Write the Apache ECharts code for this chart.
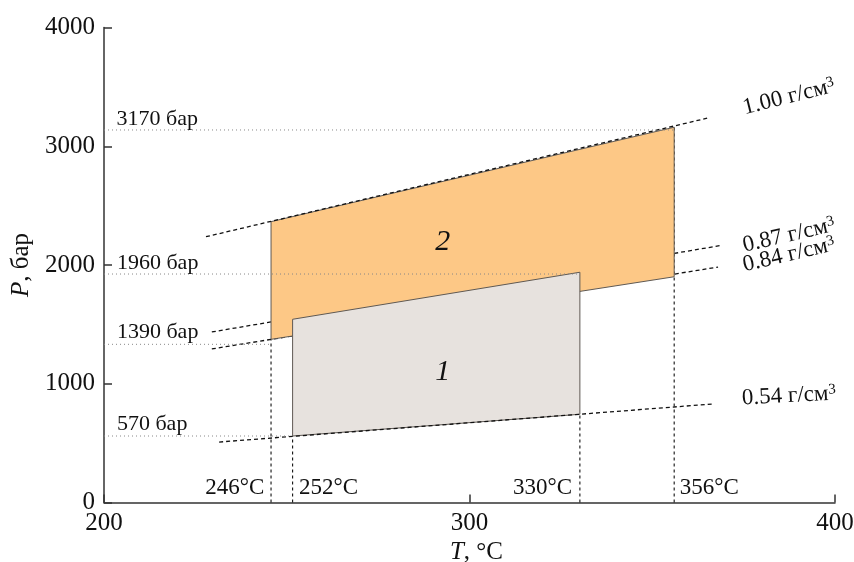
<!DOCTYPE html>
<html>
<head>
<meta charset="utf-8">
<script src="https://cdn.jsdelivr.net/npm/echarts@6/dist/echarts.min.js"></script>
<style>
html,body{margin:0;padding:0;background:#fff;}
#chart{width:854px;height:562px;}
</style>
</head>
<body>
<div id="chart"></div>
<script>
// ---- Data ----
// Axis ticks
const xTicks = [200, 300, 400];
const yTicks = [0, 1000, 2000, 3000, 4000];

// Region 2 (orange) vertices: T (°C), P (bar)
const region2T = [245.7, 356.0, 356.0, 245.7];
const region2P = [2365, 3160, 1901, 1374];
// Region 1 (grey) vertices
const region1T = [251.6, 330.2, 330.2, 251.6];
const region1P = [1543, 1939, 743, 560];

// Isochores (dashed lines): endpoints
const iso100T = [227.9, 365.8], iso100P = [2238, 3242];
const iso087T = [229.5, 368.5], iso087P = [1436, 2163];
const iso084T = [229.5, 368.0], iso084P = [1293, 1983];
const iso054T = [231.5, 366.3], iso054P = [509, 829];

// Vertical temperature guides: T and top P
const vTempT = [245.7, 251.6, 330.2, 356.0];
const vTempTop = [1374, 560, 743, 3160];
const vTempLabels = ['246°C', '252°C', '330°C', '356°C'];

// Horizontal pressure guides (dotted): P, end T
const hPresP = [3137, 1924, 1332, 560];
const hPresEndT = [356.0, 330.2, 245.7, 251.6];
const hPresLabels = ['3170 бар', '1960 бар', '1390 бар', '570 бар'];

// Density labels
const densLabels = ['1.00 г/см', '0.87 г/см', '0.84 г/см', '0.54 г/см'];
const regionLabels = ['2', '1'];

// ---- Layout / annotation positions (data coordinates) ----
const hPresLabelPos = [[203.3, 3229], [203.4, 2013], [203.4, 1436], [203.4, 661]];
const vTempLabelPos = [[244.0, 122, 'left'], [253.2, 122, 'right'], [328.2, 122, 'left'], [357.4, 122, 'right']];
const densLabelPos = [[387.4, 3415, 14], [387.4, 2250, 13], [387.4, 2086, 13], [387.4, 897, 3]];
const regionLabelPos = [[292.7, 2196], [292.7, 1101]];

const FONT = 'Liberation Serif';
const TXT = '#111';
const dashStyle = {color: '#111', width: 1.3, type: [4, 3]};
const vDashStyle = {color: '#111', width: 1.1, type: [3, 3]};
const dotStyle = {color: '#888', width: 1, type: [1, 3]};

function pairs(Ts, Ps) { return Ts.map((t, i) => [t, Ps[i]]); }

function polygonSeries(Ts, Ps, fill, z) {
  return {
    type: 'custom', coordinateSystem: 'cartesian2d', z: z, silent: true, clip: false,
    data: [[Ts[0], Ps[0]]],
    renderItem: function (params, api) {
      const pts = Ts.map((t, i) => api.coord([t, Ps[i]]));
      return {type: 'polygon', shape: {points: pts}, style: {fill: fill, stroke: '#5f5953', lineWidth: 1}};
    }
  };
}
function lineSeries(data, style, z) {
  return {type: 'line', data: data, showSymbol: false, symbol: 'none', lineStyle: style, z: z, silent: true, animation: false};
}
function labelSeries(items, z) {
  return {type: 'scatter', symbolSize: 1, itemStyle: {color: 'transparent', opacity: 1}, z: z, silent: true, data: items, animation: false};
}

const series = [];
series.push(lineSeries(pairs(iso087T, iso087P), dashStyle, 1));
series.push(lineSeries(pairs(iso084T, iso084P), dashStyle, 1));
vTempT.forEach((t, i) => series.push(lineSeries([[t, 0], [t, vTempTop[i]]], vDashStyle, 1)));
series.push(polygonSeries(region2T, region2P, '#FDC886', 2));
series.push(polygonSeries(region1T, region1P, '#E7E2DE', 3));
series.push(lineSeries(pairs(iso100T, iso100P), dashStyle, 4));
series.push(lineSeries(pairs(iso054T, iso054P), dashStyle, 4));
hPresP.forEach((p, i) => series.push(lineSeries([[200, p], [hPresEndT[i], p]], dotStyle, 4)));

series.push(labelSeries(hPresLabels.map((txt, i) => ({
  value: hPresLabelPos[i],
  label: {show: true, position: 'right', distance: 0, formatter: txt, fontFamily: FONT, fontSize: 22, color: TXT}
})), 5));
series.push(labelSeries(vTempLabels.map((txt, i) => ({
  value: [vTempLabelPos[i][0], vTempLabelPos[i][1]],
  label: {show: true, position: vTempLabelPos[i][2], distance: 0, formatter: txt, fontFamily: FONT, fontSize: 23, color: TXT}
})), 5));
series.push(labelSeries(densLabels.map((txt, i) => ({
  value: [densLabelPos[i][0], densLabelPos[i][1]],
  label: {
    show: true, position: 'inside', rotate: densLabelPos[i][2],
    formatter: '{a|' + txt + '}{s|3}',
    rich: {
      a: {fontFamily: FONT, fontSize: 23, color: TXT},
      s: {fontFamily: FONT, fontSize: 15, color: TXT, verticalAlign: 'top', padding: [0, 0, 8, 0]}
    }
  }
})), 5));
series.push(labelSeries(regionLabels.map((txt, i) => ({
  value: regionLabelPos[i],
  label: {show: true, position: 'inside', formatter: txt, fontFamily: FONT, fontStyle: 'italic', fontSize: 30, color: TXT}
})), 5));

const chart = echarts.init(document.getElementById('chart'), null, {renderer: 'canvas'});
chart.setOption({
  animation: false,
  backgroundColor: '#fff',
  grid: {left: 104, right: 19, top: 27.5, bottom: 59.5, containLabel: false, outerBoundsMode: 'none'},
  xAxis: {
    type: 'value', min: xTicks[0], max: xTicks[xTicks.length - 1], interval: 100,
    name: '{i|T}{n|, °C}', nameLocation: 'middle', nameGap: 37,
    nameTextStyle: {
      padding: [0, 0, 0, 14],
      rich: {
        i: {fontFamily: FONT, fontSize: 25, fontStyle: 'italic', color: TXT},
        n: {fontFamily: FONT, fontSize: 25, color: TXT}
      }
    },
    axisLine: {show: true, lineStyle: {color: '#333', width: 1.5}},
    axisTick: {show: true, inside: true, length: 8, lineStyle: {color: '#333', width: 1.5}},
    axisLabel: {fontFamily: FONT, fontSize: 25, color: TXT, margin: 8, formatter: v => String(v)},
    splitLine: {show: false}
  },
  yAxis: {
    type: 'value', min: yTicks[0], max: yTicks[yTicks.length - 1], interval: 1000,
    name: '{i|P}{n|, бар}', nameLocation: 'middle', nameGap: 66, nameRotate: 90,
    nameTextStyle: {
      rich: {
        i: {fontFamily: FONT, fontSize: 25, fontStyle: 'italic', color: TXT},
        n: {fontFamily: FONT, fontSize: 25, color: TXT}
      }
    },
    axisLine: {show: true, lineStyle: {color: '#333', width: 1.5}},
    axisTick: {show: true, inside: true, length: 8, lineStyle: {color: '#333', width: 1.5}},
    axisLabel: {fontFamily: FONT, fontSize: 25, color: TXT, margin: 9, formatter: v => String(v)},
    splitLine: {show: false}
  },
  series: series
});
</script>
</body>
</html>
